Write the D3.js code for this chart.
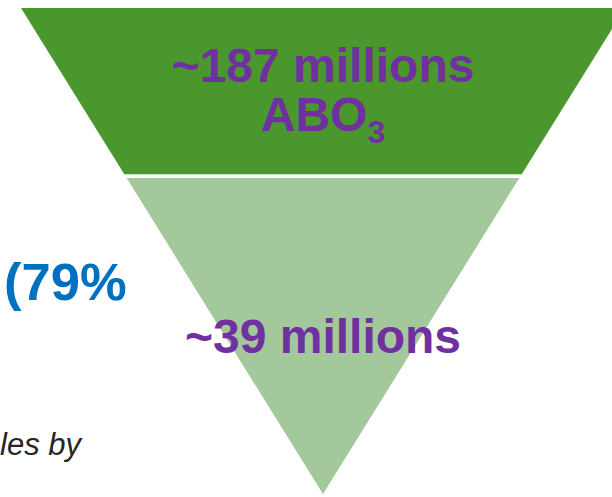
<!DOCTYPE html>
<html>
<head>
<meta charset="utf-8">
<script src="https://cdn.jsdelivr.net/npm/d3@7"></script>
<style>
  html, body { margin: 0; padding: 0; background: #fff; }
  svg { display: block; }
</style>
</head>
<body>
<svg id="chart" width="612" height="497"></svg>
<script>
// Funnel stages: label lines, start/end depth along the funnel (0 = rim, 1 = tip)
const stageLabels = [["~187 millions", "ABO", "3"], ["~39 millions", "", ""]];
const stageStart = [0, 0.35];
const stageEnd = [0.342, 1];
const stageColors = ["#4A972D", "#A2C89B"];
const labelDepth = [0.152, 0.71];

// Side annotations
const noteShare = "(79%";
const noteText = "les by";

const svg = d3.select("#chart");

// Depth -> vertical position, depth -> half width of the funnel
const y = d3.scaleLinear().domain([0, 1]).range([8, 494]);
const halfW = d3.scaleLinear().domain([0, 1]).range([302, 0]);
const cx = 323;

const stages = stageLabels.map((lab, i) => ({
  lab, s: stageStart[i], e: stageEnd[i], color: stageColors[i], d: labelDepth[i]
}));

const line = d3.line();
svg.selectAll("path.stage")
  .data(stages)
  .join("path")
  .attr("class", "stage")
  .attr("fill", d => d.color)
  .attr("d", d => {
    const pts = [
      [cx - halfW(d.s), y(d.s)],
      [cx + halfW(d.s), y(d.s)],
      [cx + halfW(d.e), y(d.e)],
      [cx - halfW(d.e), y(d.e)]
    ];
    return line(pts) + "Z";
  });

const font = "'Liberation Sans', Arial, Helvetica, sans-serif";
const purple = "#7030A0";

// First line of each stage label
svg.selectAll("text.lab1")
  .data(stages)
  .join("text")
  .attr("class", "lab1")
  .attr("x", cx)
  .attr("y", d => y(d.d))
  .attr("text-anchor", "middle")
  .attr("font-family", font)
  .attr("font-weight", "bold")
  .attr("font-size", 48)
  .attr("fill", purple)
  .text(d => d.lab[0]);

// Second line (chemical formula with subscript)
const second = stages.filter(d => d.lab[1]);
const t2 = svg.selectAll("text.lab2")
  .data(second)
  .join("text")
  .attr("class", "lab2")
  .attr("x", cx)
  .attr("y", d => y(d.d) + 49)
  .attr("text-anchor", "middle")
  .attr("font-family", font)
  .attr("font-weight", "bold")
  .attr("font-size", 48)
  .attr("fill", purple);
t2.append("tspan").text(d => d.lab[1]);
t2.append("tspan")
  .attr("font-size", 32)
  .attr("dy", 12)
  .text(d => d.lab[2]);

// Left-side annotations
svg.append("text")
  .attr("x", 4)
  .attr("y", 300)
  .attr("font-family", font)
  .attr("font-weight", "bold")
  .attr("font-size", 52.5)
  .attr("fill", "#0070C0")
  .text(noteShare);

svg.append("text")
  .attr("x", 81)
  .attr("y", 455)
  .attr("text-anchor", "end")
  .attr("font-family", font)
  .attr("font-style", "italic")
  .attr("font-size", 31)
  .attr("fill", "#262626")
  .text(noteText);
</script>
</body>
</html>
